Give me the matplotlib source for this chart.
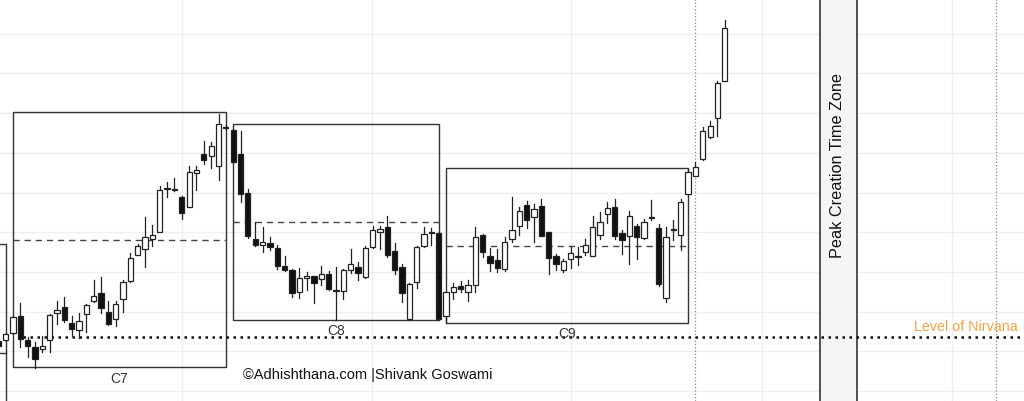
import matplotlib
matplotlib.use('Agg')
import matplotlib.pyplot as plt
from matplotlib.patches import Rectangle
import numpy as np

plt.rcParams['font.family'] = ['Liberation Sans', 'DejaVu Sans']

# candle index -1 .. 98 (price units = chart height units)
bars = np.arange(-1, 99)
opens = [60, 61, 68.5, 85.3, 61, 53.7, 52, 60.7, 87.7, 93.7,
         78, 71.3, 87, 99.7, 107.7, 89.3, 81.7, 102.4, 119.8, 146.3,
         152, 162, 169.3, 211.7, 212, 204.5, 194.3, 228, 247, 245.3,
         234.7, 274.5, 271.3, 247, 208, 162, 155.8, 158, 153.3, 135.3,
         131.3, 108.7, 123.5, 125.3, 121.6, 127.3, 111.5, 110.3, 130.8, 134.3,
         123.7, 154.2, 169.3, 173.7, 150.3, 133.7, 81.6, 118.7, 155.3, 168,
         168, 85, 108.7, 115.3, 108.7, 116, 166, 145.3, 141.3, 132,
         162, 175.3, 196.3, 183.7, 195.3, 168.7, 144.7, 131, 142, 145,
         148.7, 145.3, 166, 187, 194.5, 168.3, 165.3, 175.3, 163, 184.2,
         172.7, 102.7, 172.5, 166, 207, 225.5, 242, 263.7, 283.3, 320.3]
closes = [55.5, 67, 83.7, 62, 55, 42, 54.7, 86, 91, 81.2,
          72.4, 80.2, 96, 105.3, 93, 77.4, 97.3, 119.3, 143.5, 155.3,
          164.3, 166.3, 211.3, 212.7, 211, 187.8, 229.3, 231, 241.3, 255.3,
          277, 273.5, 238.7, 207, 164.7, 156, 158.7, 154, 135.3, 130.7,
          107.7, 122.7, 125, 118.3, 126.8, 112, 110.5, 130.8, 137, 128,
          152.7, 171.2, 172.4, 146, 131.3, 107.8, 117, 154.5, 167, 169,
          82, 108.7, 114.3, 112.4, 116.5, 164.5, 149, 138, 133.2, 159.3,
          171, 189.7, 181.3, 192, 165, 143, 137, 140, 148, 144,
          155.7, 173.7, 179.3, 193.5, 165.3, 161, 185.3, 163.7, 179.3, 183.2,
          117.5, 163.7, 171.5, 199.3, 228.7, 233.7, 270.3, 275.3, 318.3, 372.7]
highs = [61, 68, 85, 98, 64, 59, 64.7, 87, 100.3, 103.7,
         85.3, 88, 97, 121, 124.3, 100.3, 100, 121.3, 148.3, 156.7,
         183.7, 176, 214.7, 219, 222.7, 205, 235.3, 235.3, 260.3, 259.3,
         287, 276, 272, 270.3, 211.7, 178.7, 173.7, 163.7, 155.7, 145.3,
         131.7, 132.7, 128.7, 125.5, 135.3, 130, 134, 132, 152, 139,
         155, 175.3, 175.3, 185, 158.3, 137, 117.7, 155.3, 173.7, 173,
         169, 109.5, 117.8, 120, 121.3, 173.7, 167, 152.7, 152.5, 163.7,
         203.7, 193.7, 200.3, 197.5, 201.7, 169, 147, 142, 153.7, 154,
         162.3, 185, 189.3, 198.7, 202, 171, 190.3, 177, 182, 200.7,
         177, 174.5, 181.3, 202.3, 232, 238.7, 274.2, 279.7, 319.8, 380.7]
lows = [55, 60.5, 67, 54.5, 43.7, 33.5, 48.7, 49, 77, 78.7,
        64.7, 63.2, 68.7, 99, 87.8, 76, 74.8, 89.3, 119.5, 146,
        133.7, 155.5, 169, 204.5, 210.3, 182, 194, 211.3, 237, 232.8,
        221, 272.5, 238, 198.7, 163.2, 155.5, 149.5, 150.7, 132, 130.3,
        103.7, 102.8, 111, 98, 116.3, 110.7, 81.5, 102, 128, 121.5,
        123, 153.2, 152, 144, 126.7, 98.7, 81.3, 112.7, 154.3, 156,
        81, 78, 102, 109.2, 100.3, 109, 144, 130.3, 128.7, 130.3,
        159.3, 166, 173.2, 158.7, 164.7, 127, 131.5, 128.7, 133.2, 136,
        145.7, 145, 162.3, 178.3, 162.5, 147, 137, 142, 162, 180.8,
        115, 99.3, 160.7, 151.3, 206.5, 225, 241.5, 263, 265.3, 320]

# cycle boxes: label, start bar, end bar, top, bottom
box_names = ['C7', 'C8', 'C9']
box_start = [1, 31, 60]
box_end = [30, 59, 93]
box_top = [288.7, 277, 233]
box_bottom = [33.7, 81.3, 78]

nirvana_level = 63.7
peak_zone = (111, 116)
marker_bars = [94, 135]
grid_bars = [24, 49.9, 77.1, 103, 128.9]

fig = plt.figure(figsize=(10.24, 4.02), dpi=100)
ax = fig.add_axes([0, 0, 1, 1])
ax.set_xlim(-0.777, 138.77)
ax.set_ylim(0, 402)
ax.axis('off')

# light grid
for g in np.arange(10, 402, 39.7):
    ax.axhline(g, color='#efefef', lw=1, zorder=0)
for g in grid_bars:
    ax.axvline(g, color='#efefef', lw=1, zorder=0)

# previous cycle box edge
ax.plot([-2, 0, 0], [157, 157, 0], color='#333333', lw=1, zorder=1)
ax.plot([-2, 0], [48, 48], color='#333333', lw=1, zorder=1)

for name, s, e, t, b in zip(box_names, box_start, box_end, box_top, box_bottom):
    ax.add_patch(Rectangle((s, b), e - s, t - b, fill=False, ec='#333333', lw=1, zorder=1))
    ax.plot([s, e], [(t + b) / 2] * 2, color='#444444', lw=1, ls=(0, (4.5, 3.5)), zorder=1)
    ax.text((s + e) / 2, b - 3.5, name, ha='center', va='top', fontsize=10, color='#333333')

# peak creation zone
ax.add_patch(Rectangle((peak_zone[0], -5), peak_zone[1] - peak_zone[0], 420,
                       fc='#f5f5f5', ec='#222222', lw=1.1, zorder=1))
ax.text(sum(peak_zone) / 2 - 0.2, 237, 'Peak Creation Time Zone', rotation=90,
        ha='center', va='center', fontsize=11.7, color='#111111', zorder=2)

for m in marker_bars:
    ax.axvline(m, color='#888888', lw=0.9, ls=':', zorder=1)

# level of nirvana
ax.plot([2.3, 140], [nirvana_level] * 2, color='#111111', lw=1.8,
        ls=(0, (1, 1.8)), zorder=2)
ax.text(137.95, 75, 'Level of Nirvana', ha='right', va='center',
        fontsize=10.3, color='#f2a444')

# candles
w = 0.72
for x, o, c, h, l in zip(bars, opens, closes, highs, lows):
    ax.plot([x, x], [l, h], color='#222222', lw=0.9, zorder=3)
    fc = 'white' if c >= o else '#111111'
    lo, hi = min(o, c), max(o, c)
    ax.add_patch(Rectangle((x - w / 2, lo), w, max(hi - lo, 0.8), fc=fc,
                           ec='#222222', lw=0.9, zorder=4))

ax.text(32.3, 27, '\u00a9Adhishthana.com |Shivank Goswami', ha='left', va='center',
        fontsize=10.5, color='#111111')

fig.savefig('out.png', dpi=100)
